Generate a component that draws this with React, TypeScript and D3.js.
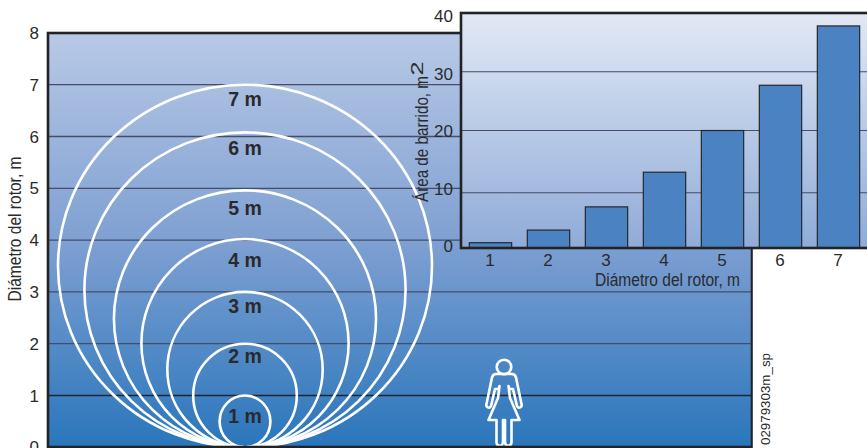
import React from "react";
import * as d3 from "d3";

const rotorTicks = [0, 1, 2, 3, 4, 5, 6, 7, 8];
const gridMetres = [1, 2, 3, 4, 5, 6, 7];
const circleLabels = ["1 m", "2 m", "3 m", "4 m", "5 m", "6 m", "7 m"];
const circleHeights = [1, 2, 3, 4.02, 4.96, 6.08, 7];
const circleWidths = [0.98, 2.0, 3.0, 4.0, 5.06, 6.2, 7.22];
const labelHeights = [0.46, 1.62, 2.6, 3.49, 4.49, 5.65, 6.58];

const diameters = ["1", "2", "3", "4", "5", "6", "7"];
const sweptArea = [0.9, 3.05, 7, 12.9, 20, 27.7, 37.8];
const areaTicks = [0, 10, 20, 30, 40];
const areaGrid = [9.4, 20, 30];

const FONT = "'Liberation Sans', Arial, sans-serif";
const INK = "#2a2a2c";

const W = 867;
const H = 448;

const womanPath =
  "M-8,0 C-10.5,0 -11.5,1.5 -12,3.5 L-17.5,30 C-18.5,33 -14.5,35.5 -13,32 L-9,15 L-5.5,15 L-4.5,12 L-6,24 L-15.5,46 L-7.5,46 L-7.5,68 C-7.5,73 -1,73 -1,68 L-1,46 L1,46 L1,68 C1,73 7.5,73 7.5,68 L7.5,46 L15.5,46 L6,24 L4.5,12 L5.5,15 L9,15 L13,32 C14.5,35.5 18.5,33 17.5,30 L12,3.5 C11.5,1.5 10.5,0 8,0 Z";

export default function App() {
  const y = d3.scaleLinear().domain([0, 8]).range([447.3, 32.9]);
  const unit = 51.8;
  const cx = 245;

  const insetY = d3.scaleLinear().domain([0, 40]).range([248, 13]);
  const insetLabelY = d3.scaleLinear().domain([0, 40]).range([246, 16]);
  const insetX = d3
    .scaleBand<string>()
    .domain(diameters)
    .range([461.5, 867.5])
    .paddingInner(0.27)
    .paddingOuter(0.135);

  return (
    <svg
      width={W}
      height={H}
      viewBox={`0 0 ${W} ${H}`}
      style={{ position: "absolute", left: 0, top: 0, display: "block" }}
      fontFamily={FONT}
    >
      <defs>
        <linearGradient id="mainBg" x1="0" y1="0" x2="0" y2="1">
          <stop offset="0" stopColor="#b8c9e6" />
          <stop offset="0.5" stopColor="#7fa0d2" />
          <stop offset="1" stopColor="#2a76bb" />
        </linearGradient>
        <linearGradient id="insetBg" x1="0" y1="0" x2="0" y2="1">
          <stop offset="0" stopColor="#e2e9f5" />
          <stop offset="1" stopColor="#8fabd8" />
        </linearGradient>
      </defs>

      <rect x={48} y={33} width={704} height={414} fill="url(#mainBg)" />
      {gridMetres.map((m) => (
        <line
          key={m}
          x1={48}
          x2={752}
          y1={y(m)}
          y2={y(m)}
          stroke={m === 1 ? "#1d2433" : "#454d68"}
          strokeWidth={1.3}
        />
      ))}

      {circleHeights.map((h, i) => (
        <ellipse
          key={i}
          cx={cx}
          cy={y(h / 2)}
          rx={(circleWidths[i] * unit) / 2}
          ry={y(0) - y(h / 2)}
          fill="none"
          stroke="#fff"
          strokeWidth={2.6}
        />
      ))}
      {circleLabels.map((t, i) => (
        <text
          key={t}
          x={cx}
          y={y(labelHeights[i])}
          textAnchor="middle"
          fontWeight="bold"
          fontSize={19.5}
          fill={INK}
        >
          {t}
        </text>
      ))}

      <g transform="translate(504,374)">
        <circle cx={0} cy={-7} r={7.3} fill="none" stroke="#fff" strokeWidth={2.6} />
        <path d={womanPath} fill="none" stroke="#fff" strokeWidth={2.6} strokeLinejoin="round" />
      </g>

      <rect x={48} y={33} width={704} height={414} fill="none" stroke="#232325" strokeWidth={2.6} />

      {rotorTicks.map((t) => (
        <text key={t} x={39} y={y(t)} dy="0.36em" textAnchor="end" fontSize={17} fill={INK}>
          {t}
        </text>
      ))}
      <text
        transform="translate(21,229) rotate(-90)"
        textAnchor="middle"
        fontSize={17.5}
        textLength={145}
        lengthAdjust="spacingAndGlyphs"
        fill={INK}
      >
        Diámetro del rotor, m
      </text>

      <rect x={752.8} y={249} width={115} height={199} fill="#fff" />
      <rect x={461} y={13} width={408} height={235} fill="url(#insetBg)" />
      {areaGrid.map((v) => (
        <line key={v} x1={461} x2={867} y1={insetY(v)} y2={insetY(v)} stroke="#454d68" strokeWidth={1.1} />
      ))}
      {sweptArea.map((v, i) => (
        <rect
          key={i}
          x={insetX(diameters[i])}
          y={insetY(v)}
          width={insetX.bandwidth()}
          height={insetY(0) - insetY(v)}
          fill="#4a82c2"
          stroke="#26282c"
          strokeWidth={1.2}
        />
      ))}
      <rect x={461} y={13} width={410} height={235} fill="none" stroke="#232325" strokeWidth={2.6} />

      {areaTicks.map((t) => (
        <text key={t} x={453} y={insetLabelY(t)} dy="0.36em" textAnchor="end" fontSize={17} fill={INK}>
          {t}
        </text>
      ))}
      {diameters.map((d) => (
        <text
          key={d}
          x={(insetX(d) as number) + insetX.bandwidth() / 2 - 0.5}
          y={265.5}
          textAnchor="middle"
          fontSize={17}
          fill={INK}
        >
          {d}
        </text>
      ))}
      <text x={740} y={286} textAnchor="end" fontSize={17.5} textLength={145} lengthAdjust="spacingAndGlyphs" fill={INK}>
        Diámetro del rotor, m
      </text>
      <text
        transform="translate(428,202) rotate(-90)"
        fontSize={17.5}
        textLength={126}
        lengthAdjust="spacingAndGlyphs"
        fill={INK}
      >
        Área de barrido, m
      </text>
      <text
        transform="translate(423,75.5) rotate(-90)"
        fontSize={17}
        textLength={14}
        lengthAdjust="spacingAndGlyphs"
        fill={INK}
      >
        2
      </text>

      <text
        transform="translate(770,445) rotate(-90)"
        fontSize={12}
        textLength={92}
        lengthAdjust="spacingAndGlyphs"
        fill={INK}
      >
        02979303m_sp
      </text>
    </svg>
  );
}
